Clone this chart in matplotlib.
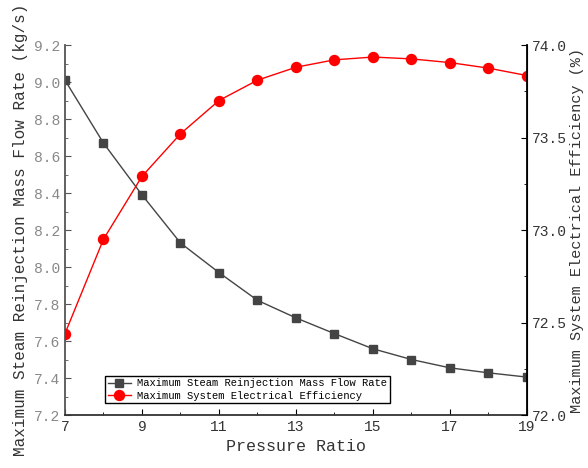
import numpy as np
import matplotlib
matplotlib.use("Agg")
import matplotlib.pyplot as plt
from matplotlib.ticker import MultipleLocator

plt.rcParams["font.family"] = ["Liberation Mono", "DejaVu Sans Mono"]

# pressure ratio
pressure_ratio = [7, 8, 9, 10, 11, 12, 13, 14, 15, 16, 17, 18, 19]
# maximum steam reinjection mass flow rate (kg/s)
mass_flow = [9.01, 8.67, 8.39, 8.13, 7.97, 7.82, 7.725, 7.64, 7.558, 7.50, 7.455, 7.428, 7.405]
# maximum system electrical efficiency (%)
efficiency = [72.44, 72.95, 73.29, 73.52, 73.70, 73.81, 73.88, 73.92, 73.935, 73.925, 73.905, 73.875, 73.835]

x_ticks = [7, 9, 11, 13, 15, 17, 19]
left_ticks = [7.2, 7.4, 7.6, 7.8, 8.0, 8.2, 8.4, 8.6, 8.8, 9.0, 9.2]
right_ticks = [72.0, 72.5, 73.0, 73.5, 74.0]

fig = plt.figure(figsize=(5.88, 4.68), dpi=100)
ax = fig.add_axes([0.1105, 0.1132, 0.7857, 0.7906])
ax2 = ax.twinx()

l1, = ax.plot(pressure_ratio, mass_flow, color="#444444", lw=1.0, marker="s",
              ms=6.2, mfc="#444444", mec="#444444",
              label="Maximum Steam Reinjection Mass Flow Rate")
l2, = ax2.plot(pressure_ratio, efficiency, color="#ff0000", lw=1.0, marker="o",
               ms=7.2, mfc="#ff0000", mec="#ff0000",
               label="Maximum System Electrical Efficiency")

ax.set_xlim(7, 19)
ax.set_ylim(7.2, 9.2)
ax2.set_ylim(72.0, 74.0)

ax.set_xticks(x_ticks)
ax.set_xticklabels([str(v) for v in x_ticks])
ax.xaxis.set_minor_locator(MultipleLocator(1))
ax.set_yticks(left_ticks)
ax.set_yticklabels(["%.1f" % v for v in left_ticks])
ax.yaxis.set_minor_locator(MultipleLocator(0.1))
ax2.set_yticks(right_ticks)
ax2.set_yticklabels(["%.1f" % v for v in right_ticks])
ax2.yaxis.set_minor_locator(MultipleLocator(0.25))

for a in (ax, ax2):
    a.spines["top"].set_visible(False)
ax.spines["left"].set_color("#555555")
ax.spines["bottom"].set_color("#333333")
ax2.spines["right"].set_color("black")
ax2.spines["left"].set_visible(False)
ax2.spines["bottom"].set_visible(False)
for s in ("left", "bottom"):
    ax.spines[s].set_linewidth(1.3)
ax2.spines["right"].set_linewidth(1.3)

ax.tick_params(axis="both", which="both", direction="in")
ax.tick_params(axis="y", which="major", length=4, labelsize=10.5, labelcolor="#888888", color="#555555")
ax.tick_params(axis="y", which="minor", length=2.5, color="#555555")
ax.tick_params(axis="x", which="major", length=4, labelsize=10.5, labelcolor="#333333")
ax.tick_params(axis="x", which="minor", length=2.5)
ax2.tick_params(axis="y", which="both", direction="in")
ax2.tick_params(axis="y", which="major", length=4, labelsize=10.5, labelcolor="#333333")
ax2.tick_params(axis="y", which="minor", length=2.5)

ax.set_xlabel("Pressure Ratio", fontsize=12, color="#333333", labelpad=4)
ax.set_ylabel("Maximum Steam Reinjection Mass Flow Rate (kg/s)", fontsize=11.5,
              color="#333333", labelpad=4)
ax2.set_ylabel("Maximum System Electrical Efficiency (%)", fontsize=11,
               color="#333333", rotation=90, labelpad=2)

leg = ax.legend(handles=[l1, l2], loc="lower left", bbox_to_anchor=(0.087, 0.032),
                borderaxespad=0, fontsize=7.6, fancybox=False, edgecolor="black",
                framealpha=1, handlelength=2.2, borderpad=0.25, labelspacing=0.2,
                handletextpad=0.6)
leg.get_frame().set_linewidth(1.0)
leg.set_zorder(5)

fig.savefig("out.png", dpi=100)
